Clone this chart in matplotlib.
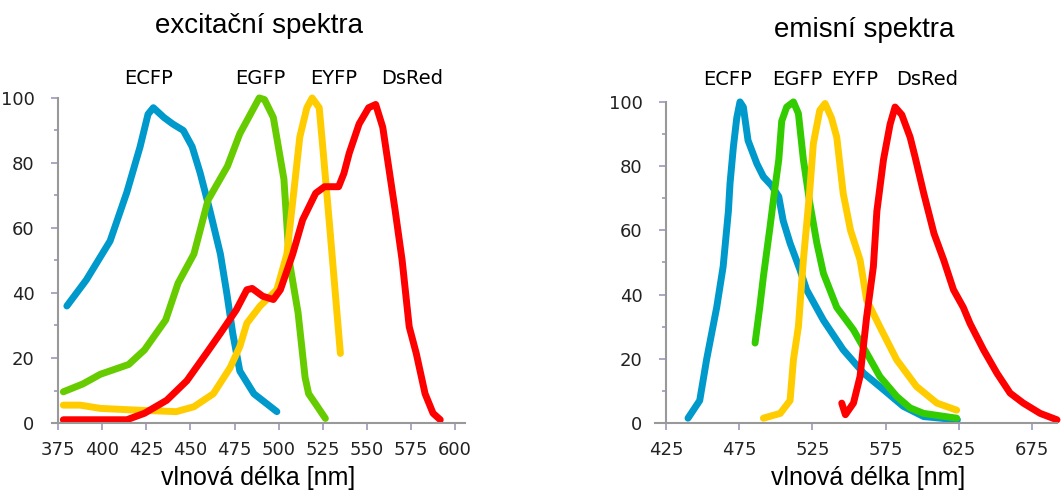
import numpy as np
import matplotlib
matplotlib.use("Agg")
import matplotlib.pyplot as plt

# excitation spectra (nm, relative intensity)
ex_ecfp_nm = [380, 391, 404.5, 414, 421.5, 426, 429, 435, 440, 446, 451, 455.5, 461, 467, 470.6, 474, 478, 486, 499]
ex_ecfp = [36, 44, 56, 71, 85, 95, 97, 94, 92, 90, 85, 77, 65.5, 52, 40, 27.6, 16, 9, 3.5]

ex_egfp_nm = [378, 389, 399, 415, 424, 436, 443, 452, 460, 471, 478, 489, 492, 497, 503, 506, 511, 515, 517, 520.8, 526.5]
ex_egfp = [9.6, 12, 15, 18, 22.5, 31.7, 43, 52, 68.6, 79, 89, 100, 99.5, 94, 75, 50, 34, 14, 9, 6, 1.4]

ex_eyfp_nm = [378, 387.5, 399, 418, 442, 452, 463, 472.5, 478, 482, 489.5, 499, 504.7, 508.5, 512, 516, 519, 523, 525, 529, 535]
ex_eyfp = [5.5, 5.5, 4.5, 4, 3.5, 5, 9, 17, 23.5, 30.7, 36, 41, 52, 70.7, 88, 97, 100, 97, 85, 60, 21.4]

ex_dsred_nm = [378, 414, 424, 436.6, 448, 459, 467, 476, 482, 485, 491, 497, 501, 508, 513.6, 521, 526, 534, 537, 540,
               545.6, 551, 555, 559, 566, 570, 574, 578, 583, 587.5, 591.6]
ex_dsred = [1, 1, 3, 7, 13, 21.4, 27.6, 34.8, 41, 41.4, 39, 38, 41, 52, 62.5, 70.7, 72.7, 72.7, 76.8, 83,
            92, 97, 98, 91, 65.5, 50, 29.6, 21.4, 9, 3, 1]

# emission spectra
em_ecfp_nm = [440, 448, 452.8, 459.6, 464, 467.6, 468.7, 471, 473.3, 475.5, 477.8, 481, 487, 491.5, 497, 502, 505,
              509.7, 516.5, 521, 532.5, 546, 560, 573.5, 587, 601, 624]
em_ecfp = [1.5, 7, 20, 36, 48.7, 66, 74.6, 86, 95, 100, 98.4, 88, 80.8, 76.7, 74, 70.5, 63,
           56, 47.7, 41.5, 32, 22.8, 15.5, 10.4, 5.2, 2, 1]

em_egfp_nm = [485.8, 489, 491.5, 496, 499.5, 502, 504, 507.4, 512, 515.4, 518.8, 523, 528, 532.5, 541.6, 553, 562,
              571, 582.5, 591.7, 600.8, 623.5]
em_egfp = [24.9, 36, 45.6, 61, 73.6, 82, 94, 98.4, 100, 96.4, 82, 69, 56, 46.6, 36, 29, 21.8,
           14.5, 8.3, 4.7, 3, 1.5]

em_eyfp_nm = [491.5, 503, 509.7, 512, 515.4, 518.8, 523, 525.6, 530, 533.6, 538, 541.6, 546, 551, 557.5, 562, 571,
              582.5, 596, 610, 623.5]
em_eyfp = [1.5, 3, 7, 19.7, 30, 50.8, 71.5, 87, 97.4, 99.5, 95, 89, 71.5, 60, 50.8, 38.3, 30,
           19.7, 11.4, 6.2, 4]

em_dsred_nm = [545, 547.5, 553, 557.5, 562, 566.6, 569, 573.5, 578, 581.4, 586, 591.7, 595, 601, 608, 614.6, 621.3,
               628, 632.6, 641.8, 651, 660, 669, 680.5, 692]
em_dsred = [6.2, 2.6, 6.2, 14.5, 33, 48.7, 66, 82, 93, 98.4, 96, 89, 83, 71.5, 59, 50.8, 41.5,
            36, 31, 22.8, 15.5, 9.3, 6.2, 3, 1]

names = ["ECFP", "EGFP", "EYFP", "DsRed"]
ex_name_x = [426, 489.5, 531, 575.7]
em_name_x = [467.3, 514.5, 554, 603]
ex_ticks = [375, 400, 425, 450, 475, 500, 525, 550, 575, 600]
em_ticks = [425, 475, 525, 575, 625, 675]

c_blue = "#0099CC"
c_green = "#66CC00"
c_green2 = "#33CC00"
c_yellow = "#FFCC00"
c_red = "#FF0000"

fig = plt.figure(figsize=(10.62, 4.94), dpi=100, facecolor="white")
ax1 = fig.add_axes([0.049, 0.1437, 0.389, 0.658])
ax2 = fig.add_axes([0.6168, 0.1437, 0.3785, 0.650])

def style(ax, xlim, yorigin, ticks):
    ax.set_xlim(*xlim)
    ax.set_ylim(0, 100)
    for s in ["top", "right"]:
        ax.spines[s].set_visible(False)
    ax.spines["left"].set_position(("data", yorigin))
    ax.spines["left"].set_color("#999999")
    ax.spines["bottom"].set_color("#999999")
    ax.spines["left"].set_linewidth(1.5)
    ax.spines["bottom"].set_linewidth(1.5)
    ax.set_xticks(ticks)
    ax.set_yticks([0, 20, 40, 60, 80, 100])
    ax.set_yticks([10, 30, 50, 70, 90], minor=True)
    ax.tick_params(axis="both", which="both", colors="#9999bb", length=5, width=1.2,
                   labelcolor="#222222", labelsize=13)
    ax.tick_params(axis="y", which="minor", length=3)
    ax.tick_params(axis="y", pad=12)
    ax.tick_params(axis="x", pad=8)

def curve(ax, x, y, c):
    ax.plot(x, y, color=c, lw=5, clip_on=False, solid_capstyle="round", solid_joinstyle="round")

curve(ax1, ex_ecfp_nm, ex_ecfp, c_blue)
curve(ax1, ex_egfp_nm, ex_egfp, c_green)
curve(ax1, ex_eyfp_nm, ex_eyfp, c_yellow)
curve(ax1, ex_dsred_nm, ex_dsred, c_red)
style(ax1, (371.6, 605.7), 375, ex_ticks)
for n, x in zip(names, ex_name_x):
    ax1.text(x, 106, n, ha="center", va="center", fontsize=14, clip_on=False)
ax1.text(0.5, 1.22, "excitační spektra", transform=ax1.transAxes, ha="center", va="center",
         fontsize=20, family="Liberation Sans")
ax1.text(0.5, -0.17, "vlnová délka [nm]", transform=ax1.transAxes, ha="center", va="center",
         fontsize=18, family="Liberation Sans")

curve(ax2, em_ecfp_nm, em_ecfp, c_blue)
curve(ax2, em_egfp_nm, em_egfp, c_green2)
curve(ax2, em_eyfp_nm, em_eyfp, c_yellow)
curve(ax2, em_dsred_nm, em_dsred, c_red)
style(ax2, (417.5, 692), 425, em_ticks)
for n, x in zip(names, em_name_x):
    ax2.text(x, 107, n, ha="center", va="center", fontsize=14, clip_on=False)
ax2.text(0.52, 1.225, "emisní spektra", transform=ax2.transAxes, ha="center", va="center",
         fontsize=20, family="Liberation Sans")
ax2.text(0.53, -0.17, "vlnová délka [nm]", transform=ax2.transAxes, ha="center", va="center",
         fontsize=18, family="Liberation Sans")

fig.savefig("out.png", dpi=100, facecolor="white")
